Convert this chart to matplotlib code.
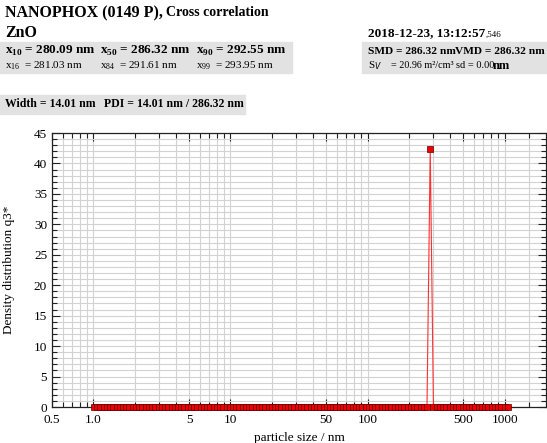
import matplotlib
matplotlib.use("Agg")
import matplotlib.pyplot as plt
from matplotlib.ticker import FixedLocator, FixedFormatter, MultipleLocator, NullFormatter
from matplotlib.patches import Rectangle

plt.rcParams["font.family"] = ["Liberation Serif", "DejaVu Serif"]
plt.rcParams["mathtext.fontset"] = "custom"
plt.rcParams["mathtext.rm"] = "Liberation Serif"
plt.rcParams["mathtext.bf"] = "Liberation Serif:bold"

# particle size classes (nm)
sizes = [
    1.010, 1.067, 1.126, 1.189, 1.256, 1.326, 1.400, 1.478, 1.560, 1.647,
    1.739, 1.836, 1.939, 2.047, 2.161, 2.282, 2.409, 2.543, 2.685, 2.835,
    2.993, 3.160, 3.336, 3.522, 3.719, 3.926, 4.145, 4.377, 4.621, 4.879,
    5.151, 5.438, 5.742, 6.062, 6.401, 6.758, 7.135, 7.534, 7.954, 8.398,
    8.867, 9.362, 9.883, 10.43, 11.01, 11.63, 12.28, 12.97, 13.69, 14.46,
    15.26, 16.11, 17.01, 17.96, 18.96, 20.02, 21.14, 22.32, 23.56, 24.87,
    26.26, 27.73, 29.27, 30.91, 32.63, 34.45, 36.37, 38.40, 40.54, 42.81,
    45.20, 47.72, 50.38, 53.19, 56.16, 59.29, 62.60, 66.10, 69.78, 73.69,
    77.79, 82.14, 86.72, 91.56, 96.66, 102.0, 107.7, 113.7, 120.1, 126.9,
    133.9, 141.4, 149.3, 157.6, 166.4, 175.7, 185.4, 195.8, 206.8, 218.3,
    230.4, 243.2, 256.8, 271.2, 286.3, 302.3, 319.1, 336.9, 355.7, 375.6,
    396.5, 418.7, 442.1, 466.7, 492.7, 520.2, 549.3, 579.9, 612.3, 646.5,
    682.5, 720.7, 760.8, 803.4, 848.2, 895.5, 945.4, 997.6, 1053.0,
]
# density distribution q3*: single class at x50 carries everything
q3 = [0.0] * 104 + [42.4] + [0.0] * 24

xtick_vals = [0.5, 1.0, 5, 10, 50, 100, 500, 1000]
xtick_labels = ["0.5", "1.0", "5", "10", "50", "100", "500", "1000"]

W, H = 547, 443
fig = plt.figure(figsize=(W / 100, H / 100), dpi=100)


def px(x, y):
    return x / W, 1 - y / H


def grey_box(x, y_bottom, w, h):
    fig.patches.append(Rectangle(px(x, y_bottom), w / W, h / H, transform=fig.transFigure,
                                 color="#e2e2e2", zorder=0))


# --- header ---
grey_box(0, 73, 292, 31)
grey_box(362, 73, 185, 31)
grey_box(0, 114, 245, 19)

fig.text(*px(5, 13), "NANOPHOX (0149 P),", fontsize=11.5, weight="bold", va="center")
fig.text(*px(166, 13), "Cross correlation", fontsize=10, weight="bold", va="center")
fig.text(*px(5, 33), "ZnO", fontsize=11.5, weight="bold", va="center")
fig.text(*px(368, 33), "2018-12-23, 13:12:57", fontsize=9.5, weight="bold", va="center")
fig.text(*px(486, 35), ",546", fontsize=6.5, va="center")

row1 = [(5, r"x$_\mathbf{10}$ = 280.09 nm"), (100, r"x$_\mathbf{50}$ = 286.32 nm"),
        (196, r"x$_\mathbf{90}$ = 292.55 nm")]
for x, s in row1:
    fig.text(*px(x, 51), s, fontsize=9.5, weight="bold", va="center")
fig.text(*px(368, 51), "SMD = 286.32 nm", fontsize=8.2, weight="bold", va="center")
fig.text(*px(455, 51), "VMD = 286.32 nm", fontsize=8.2, weight="bold", va="center")

row2 = [(5, r"x$_{16}$  = 281.03 nm"), (100, r"x$_{84}$  = 291.61 nm"),
        (196, r"x$_{99}$  = 293.95 nm"), (368, r"S$_{V}$")]
for x, s in row2:
    fig.text(*px(x, 66), s, fontsize=8, va="center")
fig.text(*px(391, 66), "= 20.96 m²/cm³", fontsize=7.3, va="center")
fig.text(*px(456, 66), "sd = 0.00", fontsize=7.5, va="center")
fig.text(*px(493, 66), "nm", fontsize=9, weight="bold", va="center")

fig.text(*px(5, 104), "Width = 14.01 nm", fontsize=8.5, weight="bold", va="center")
fig.text(*px(104, 104), "PDI = 14.01 nm / 286.32 nm", fontsize=8.5, weight="bold", va="center")

# --- plot ---
ax = fig.add_axes([52 / W, 1 - 407 / H, (546 - 52) / W, (407 - 133) / H])
ax.set_xscale("log")
ax.set_xlim(0.5, 2000)
ax.set_ylim(0, 45)

ax.plot(sizes, q3, color="#ff3030", lw=0.8, zorder=4, clip_on=False)
ax.plot(sizes, q3, ls="none", marker="s", ms=4.4, mfc="#ee0000", mec="#5a0000",
        mew=0.5, zorder=5, clip_on=False)

minor_x = [m * d for d in (0.1, 1, 10, 100) for m in range(2, 10) if 0.5 < m * d < 1000]
minor_x.append(1500)
ax.xaxis.set_major_locator(FixedLocator(xtick_vals))
ax.xaxis.set_major_formatter(FixedFormatter(xtick_labels))
ax.xaxis.set_minor_locator(FixedLocator(minor_x))
ax.xaxis.set_minor_formatter(NullFormatter())
ax.yaxis.set_major_locator(MultipleLocator(5))
ax.yaxis.set_minor_locator(MultipleLocator(1))

ax.grid(which="both", color="#d2d2d2", lw=0.8)
ax.set_axisbelow(True)
ax.tick_params(which="both", direction="in", top=True, right=True, color="#222222",
               labelsize=9.5)
ax.tick_params(axis="x", which="major", pad=5)
ax.tick_params(which="major", length=6, width=0.8)
ax.tick_params(which="minor", length=3.5, width=0.8)
for sp in ax.spines.values():
    sp.set_color("#222222")
    sp.set_linewidth(0.9)

ax.set_xlabel("particle size / nm", fontsize=9.5)
ax.set_ylabel("Density distribution q3*", fontsize=9.5)
ax.yaxis.set_label_coords(-0.075, 0.5)

fig.savefig("out.png", dpi=100)
